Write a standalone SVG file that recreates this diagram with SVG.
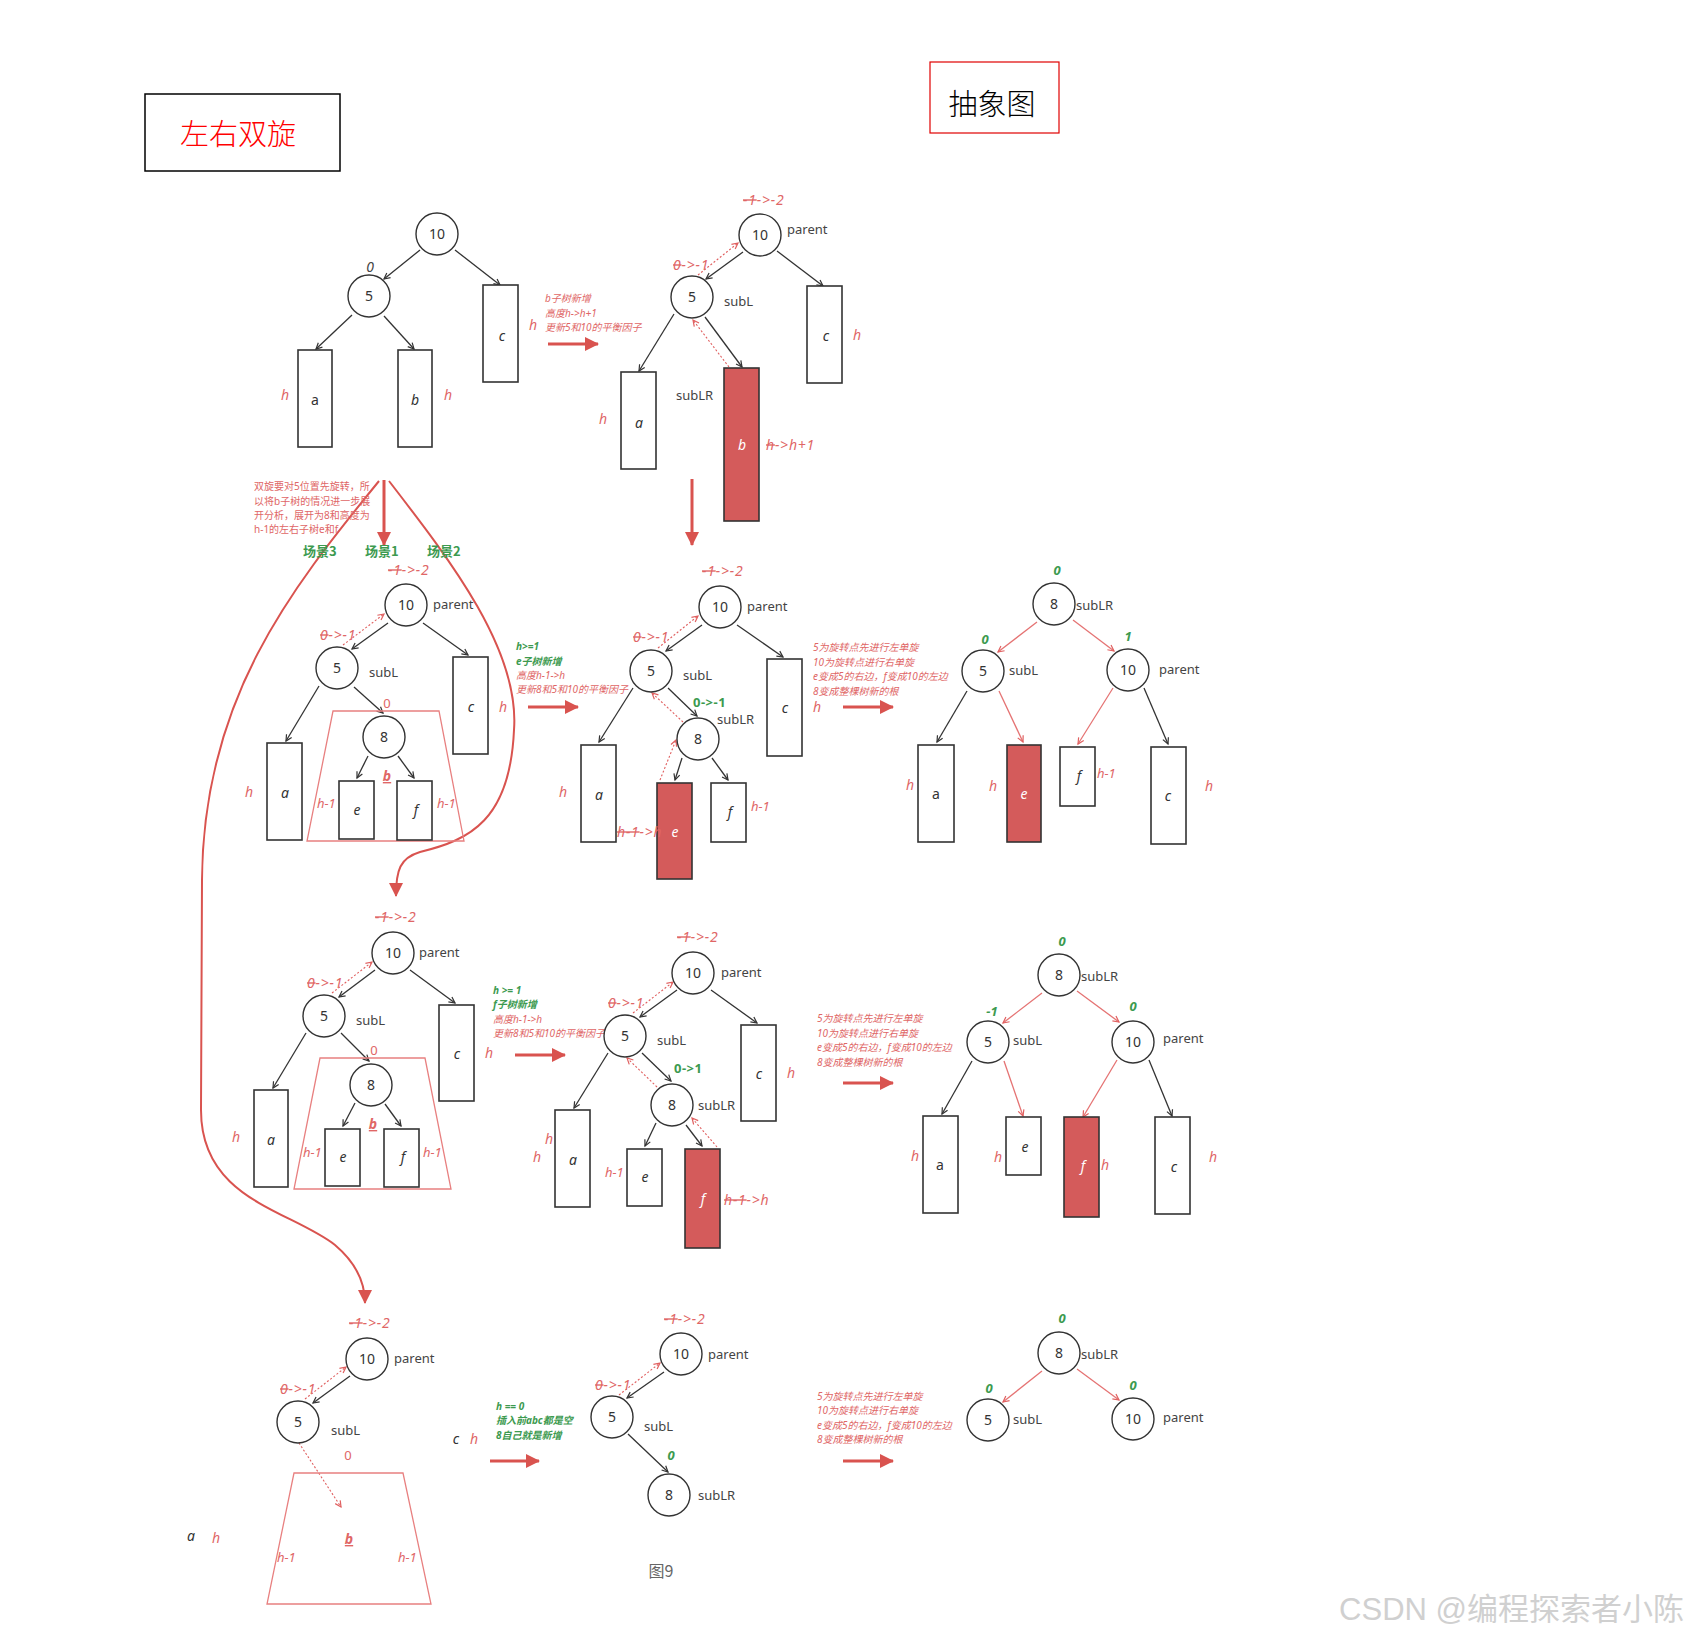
<svg xmlns="http://www.w3.org/2000/svg" width="1688" height="1638" viewBox="0 0 1688 1638">
<defs>
<marker id="ab" markerUnits="userSpaceOnUse" markerWidth="10" markerHeight="10" refX="7" refY="4" orient="auto"><path d="M1,1 L7,4 L1,7" fill="none" stroke="#333" stroke-width="1.2"/></marker>
<marker id="ar" markerUnits="userSpaceOnUse" markerWidth="10" markerHeight="10" refX="7" refY="4" orient="auto"><path d="M1,1 L7,4 L1,7" fill="none" stroke="#e06060" stroke-width="1.2"/></marker>
<marker id="big" markerUnits="userSpaceOnUse" markerWidth="16" markerHeight="16" refX="13" refY="7" orient="auto"><path d="M0,0 L14,7 L0,14 z" fill="#d9534f"/></marker>
<style>
.n circle{fill:#fff;stroke:#333;stroke-width:1.4}
.n text{font:14px "Noto Sans","Liberation Sans",sans-serif;fill:#333;text-anchor:middle}
.box{fill:#fff;stroke:#333;stroke-width:1.6}
.rbox{fill:#d45b5b;stroke:#333;stroke-width:1.6}
.bl{font:italic 14px "Noto Sans","Liberation Sans",sans-serif;fill:#333;text-anchor:middle}
.bu{font:14px "Noto Sans","Liberation Sans",sans-serif;fill:#333;text-anchor:middle}
.wl{font:italic 14px "Noto Sans","Liberation Sans",sans-serif;fill:#fff;text-anchor:middle}
.lbl{font:13px "Noto Sans","Liberation Sans",sans-serif;fill:#444}
.rh{font:italic 14px "Noto Sans","Liberation Sans",sans-serif;fill:#e06666;text-anchor:middle}
.rt{font:italic 13px "Noto Sans","Liberation Sans",sans-serif;fill:#e06666}
.ar{font-size:14px;letter-spacing:0.8px}
.rz{font:13px "Noto Sans","Liberation Sans",sans-serif;fill:#e06666;text-anchor:middle}
.gb{font:italic bold 13px "Noto Sans","Liberation Sans",sans-serif;fill:#3c9a4f;text-anchor:middle}
.gt{font:bold 13px "Noto Sans","Liberation Sans",sans-serif;fill:#3c9a4f;letter-spacing:0.5px}
.ub{font:italic bold 14px "Noto Sans","Liberation Sans",sans-serif;fill:#e06666;text-anchor:middle;text-decoration:underline}
.note{font:italic 10px "Noto Sans","Noto Sans CJK SC",sans-serif;fill:#e06666}
.gnote{font:italic bold 10px "Noto Sans","Noto Sans CJK SC",sans-serif;fill:#3c9a4f}
.lnote{font:10px "Noto Sans","Noto Sans CJK SC",sans-serif;fill:#e06666}
.scn{font:bold 13px "Noto Sans CJK SC",sans-serif;fill:#3c9a4f}
.e{stroke:#333;stroke-width:1.3;fill:none;marker-end:url(#ab)}
.re{stroke:#e57373;stroke-width:1.3;fill:none;marker-end:url(#ar)}
.de{stroke:#e06060;stroke-width:1.1;fill:none;stroke-dasharray:2 2;marker-end:url(#ar)}
.bg{stroke:#d9534f;stroke-width:3;fill:none;marker-end:url(#big)}
.cv{stroke:#d9534f;stroke-width:2;fill:none;marker-end:url(#big)}
.tz{fill:none;stroke:#e88080;stroke-width:1.3}
.s{text-decoration:line-through}
</style>
</defs>
<rect width="1688" height="1638" fill="#fff"/>

<g id="title-left">
<rect x="145" y="94" width="195" height="77" fill="none" stroke="#000" stroke-width="1.5"/>
<text x="238" y="145" font-family="Noto Sans CJK SC, sans-serif" font-size="29" font-weight="300" fill="#ff0000" text-anchor="middle">左右双旋</text>
</g>
<g id="title-right">
<rect x="930" y="62" width="129" height="71" fill="none" stroke="#e00000" stroke-width="1.2"/>
<text x="992" y="115" font-family="Noto Sans CJK SC, sans-serif" font-size="29" font-weight="300" fill="#000" text-anchor="middle">抽象图</text>
</g>

<g id="connectors">
<line class="e" x1="420" y1="250" x2="384" y2="279"/>
<line class="e" x1="455" y1="250" x2="500" y2="285"/>
<line class="e" x1="352" y1="315" x2="316" y2="349"/>
<line class="e" x1="384" y1="316" x2="414" y2="349"/>
<line class="bg" x1="548" y1="344" x2="598" y2="344"/>
<line class="e" x1="743" y1="252" x2="706" y2="279"/>
<line class="e" x1="777" y1="251" x2="823" y2="286"/>
<line class="e" x1="674" y1="314" x2="639" y2="371"/>
<line class="e" x1="705" y1="317" x2="742" y2="367"/>
<line class="de" x1="698" y1="275" x2="738" y2="243"/>
<line class="de" x1="729" y1="367" x2="693" y2="320"/>
<line class="bg" x1="692" y1="479" x2="692" y2="545"/>
<line class="bg" x1="384" y1="480" x2="384" y2="545"/>
<path class="cv" d="M379 481 C290 590,203 700,202 880 L201 1110 C201 1200,290 1210,335 1245 C355 1262,365 1280,365 1303"/>
<path class="cv" d="M389 481 C450 560,520 650,514 730 C510 820,470 840,420 852 C400 858,396 870,396 896"/>
<line class="e" x1="388" y1="623" x2="352" y2="649"/>
<line class="e" x1="423" y1="623" x2="468" y2="655"/>
<line class="e" x1="319" y1="686" x2="286" y2="741"/>
<line class="e" x1="354" y1="687" x2="383" y2="713"/>
<line class="e" x1="368" y1="756" x2="357" y2="778"/>
<line class="e" x1="398" y1="756" x2="414" y2="778"/>
<line class="de" x1="343" y1="645" x2="384" y2="614"/>
<line class="bg" x1="528" y1="707" x2="578" y2="707"/>
<line class="e" x1="702" y1="625" x2="666" y2="651"/>
<line class="e" x1="737" y1="625" x2="783" y2="657"/>
<line class="e" x1="633" y1="688" x2="599" y2="742"/>
<line class="e" x1="668" y1="688" x2="697" y2="716"/>
<line class="e" x1="682" y1="758" x2="675" y2="780"/>
<line class="e" x1="712" y1="758" x2="728" y2="780"/>
<line class="de" x1="658" y1="648" x2="698" y2="616"/>
<line class="de" x1="683" y1="722" x2="652" y2="693"/>
<line class="de" x1="660" y1="780" x2="676" y2="740"/>
<line class="bg" x1="843" y1="707" x2="893" y2="707"/>
<line class="re" x1="1037" y1="622" x2="998" y2="652"/>
<line class="re" x1="1073" y1="620" x2="1114" y2="651"/>
<line class="e" x1="967" y1="691" x2="937" y2="742"/>
<line class="re" x1="999" y1="691" x2="1023" y2="742"/>
<line class="re" x1="1113" y1="688" x2="1078" y2="744"/>
<line class="e" x1="1144" y1="688" x2="1168" y2="744"/>
<line class="e" x1="375" y1="970" x2="339" y2="997"/>
<line class="e" x1="410" y1="970" x2="455" y2="1003"/>
<line class="e" x1="306" y1="1033" x2="273" y2="1088"/>
<line class="e" x1="341" y1="1033" x2="369" y2="1061"/>
<line class="e" x1="355" y1="1103" x2="343" y2="1126"/>
<line class="e" x1="385" y1="1104" x2="401" y2="1126"/>
<line class="de" x1="332" y1="993" x2="372" y2="962"/>
<line class="bg" x1="515" y1="1055" x2="565" y2="1055"/>
<line class="e" x1="677" y1="990" x2="640" y2="1017"/>
<line class="e" x1="711" y1="990" x2="757" y2="1023"/>
<line class="e" x1="608" y1="1053" x2="574" y2="1108"/>
<line class="e" x1="642" y1="1053" x2="671" y2="1081"/>
<line class="e" x1="656" y1="1123" x2="645" y2="1146"/>
<line class="e" x1="686" y1="1125" x2="702" y2="1146"/>
<line class="de" x1="633" y1="1013" x2="673" y2="982"/>
<line class="de" x1="657" y1="1087" x2="627" y2="1058"/>
<line class="de" x1="717" y1="1147" x2="692" y2="1118"/>
<line class="bg" x1="843" y1="1083" x2="893" y2="1083"/>
<line class="re" x1="1042" y1="993" x2="1003" y2="1023"/>
<line class="re" x1="1077" y1="991" x2="1119" y2="1022"/>
<line class="e" x1="972" y1="1061" x2="942" y2="1114"/>
<line class="re" x1="1004" y1="1061" x2="1023" y2="1116"/>
<line class="re" x1="1117" y1="1060" x2="1083" y2="1117"/>
<line class="e" x1="1149" y1="1060" x2="1172" y2="1116"/>
<line class="e" x1="350" y1="1376" x2="313" y2="1403"/>
<line class="de" x1="305" y1="1399" x2="346" y2="1367"/>
<line class="de" x1="299" y1="1443" x2="341" y2="1507"/>
<line class="bg" x1="490" y1="1461" x2="539" y2="1461"/>
<line class="e" x1="664" y1="1372" x2="627" y2="1398"/>
<line class="de" x1="619" y1="1395" x2="660" y2="1363"/>
<line class="e" x1="628" y1="1434" x2="668" y2="1472"/>
<line class="bg" x1="843" y1="1461" x2="893" y2="1461"/>
<line class="re" x1="1042" y1="1371" x2="1003" y2="1402"/>
<line class="re" x1="1077" y1="1369" x2="1119" y2="1400"/>
</g>

<g id="t1-n10" class="n"><circle cx="437" cy="234" r="21"/><text x="437" y="239">10</text></g>
<g id="t1-n5" class="n"><circle cx="369" cy="296" r="21"/><text x="369" y="301">5</text></g>
<g id="t1-a"><rect class="box" x="298" y="350" width="34" height="97"/><text class="bu" x="315" y="405">a</text><text class="rh" x="285" y="400">h</text></g>
<g id="t1-b"><rect class="box" x="398" y="350" width="34" height="97"/><text class="bl" x="415" y="405">b</text><text class="rh" x="448" y="400">h</text></g>
<g id="t1-c"><rect class="box" x="483" y="285" width="35" height="97"/><text class="bl" x="502" y="341">c</text><text class="rh" x="533" y="330">h</text></g>
<g id="t1-labels">
<text x="370" y="272" font-family="Noto Sans, sans-serif" font-style="italic" font-size="14" fill="#444" text-anchor="middle">0</text>
<text class="note" x="545" y="302">b子树新增</text>
<text class="note" x="545" y="317">高度h-&gt;h+1</text>
<text class="note" x="545" y="331">更新5和10的平衡因子</text>
</g>

<g id="t2-n10" class="n"><circle cx="760" cy="235" r="21"/><text x="760" y="240">10</text></g>
<g id="t2-n5" class="n"><circle cx="692" cy="297" r="21"/><text x="692" y="302">5</text></g>
<g id="t2-a"><rect class="box" x="621" y="372" width="35" height="97"/><text class="bl" x="639" y="428">a</text><text class="rh" x="603" y="424">h</text></g>
<g id="t2-b"><rect class="rbox" x="724" y="368" width="35" height="153"/><text class="wl" x="742" y="450">b</text><text class="rt ar" x="766" y="450"><tspan class="s">h</tspan>-&gt;h+1</text></g>
<g id="t2-c"><rect class="box" x="807" y="286" width="35" height="97"/><text class="bl" x="826" y="341">c</text><text class="rh" x="857" y="340">h</text></g>
<g id="t2-labels">
<text class="rt ar" x="743" y="205"><tspan class="s">-1</tspan>-&gt;-2</text>
<text class="lbl" x="787" y="234">parent</text>
<text class="rt ar" x="673" y="270"><tspan class="s">0</tspan>-&gt;-1</text>
<text class="lbl" x="724" y="306">subL</text>
<text class="lbl" x="676" y="400">subLR</text>
</g>

<g id="branch-notes">
<text class="lnote" x="254" y="490">双旋要对5位置先旋转，所</text>
<text class="lnote" x="254" y="505">以将b子树的情况进一步展</text>
<text class="lnote" x="254" y="519">开分析，展开为8和高度为</text>
<text class="lnote" x="254" y="533">h-1的左右子树e和f</text>
<text class="scn" x="303" y="556">场景3</text>
<text class="scn" x="365" y="556">场景1</text>
<text class="scn" x="427" y="556">场景2</text>
</g>

<g id="r2l-n10" class="n"><circle cx="406" cy="605" r="21"/><text x="406" y="610">10</text></g>
<g id="r2l-n5" class="n"><circle cx="337" cy="668" r="21"/><text x="337" y="673">5</text></g>
<g id="r2l-b">
<polygon class="tz" points="333,711 439,711 464,841 307,841"/>
<text class="rz" x="387" y="708">0</text>
<text class="ub" x="387" y="781">b</text>
<text class="rt" x="317" y="808">h-1</text>
<text class="rt" x="437" y="808">h-1</text>
</g>
<g id="r2l-n8" class="n"><circle cx="384" cy="737" r="21"/><text x="384" y="742">8</text></g>
<g id="r2l-a"><rect class="box" x="267" y="743" width="35" height="97"/><text class="bl" x="285" y="798">a</text><text class="rh" x="249" y="797">h</text></g>
<g id="r2l-c"><rect class="box" x="453" y="657" width="35" height="97"/><text class="bl" x="471" y="712">c</text><text class="rh" x="503" y="712">h</text></g>
<g id="r2l-e"><rect class="box" x="339" y="781" width="35" height="58"/><text class="bl" x="357" y="815">e</text></g>
<g id="r2l-f"><rect class="box" x="397" y="781" width="35" height="59"/><text class="bl" x="416" y="815">f</text></g>
<g id="r2l-labels">
<text class="rt ar" x="388" y="575"><tspan class="s">-1</tspan>-&gt;-2</text>
<text class="lbl" x="433" y="609">parent</text>
<text class="rt ar" x="320" y="640"><tspan class="s">0</tspan>-&gt;-1</text>
<text class="lbl" x="369" y="677">subL</text>
<text class="gnote" x="516" y="650">h&gt;=1</text>
<text class="gnote" x="516" y="665">e子树新增</text>
<text class="note" x="516" y="679">高度h-1-&gt;h</text>
<text class="note" x="516" y="693">更新8和5和10的平衡因子</text>
</g>

<g id="r2m-n10" class="n"><circle cx="720" cy="607" r="21"/><text x="720" y="612">10</text></g>
<g id="r2m-n5" class="n"><circle cx="651" cy="671" r="21"/><text x="651" y="676">5</text></g>
<g id="r2m-n8" class="n"><circle cx="698" cy="739" r="21"/><text x="698" y="744">8</text></g>
<g id="r2m-a"><rect class="box" x="581" y="745" width="35" height="97"/><text class="bl" x="599" y="800">a</text><text class="rh" x="563" y="797">h</text></g>
<g id="r2m-c"><rect class="box" x="767" y="659" width="35" height="97"/><text class="bl" x="785" y="713">c</text><text class="rh" x="817" y="712">h</text></g>
<g id="r2m-e"><rect class="rbox" x="657" y="783" width="35" height="96"/><text class="wl" x="675" y="837">e</text><text class="rt ar" x="617" y="837"><tspan class="s">h-1</tspan>-&gt;h</text></g>
<g id="r2m-f"><rect class="box" x="711" y="783" width="35" height="59"/><text class="bl" x="730" y="817">f</text><text class="rt" x="751" y="811">h-1</text></g>
<g id="r2m-labels">
<text class="rt ar" x="702" y="576"><tspan class="s">-1</tspan>-&gt;-2</text>
<text class="lbl" x="747" y="611">parent</text>
<text class="rt ar" x="633" y="642"><tspan class="s">0</tspan>-&gt;-1</text>
<text class="lbl" x="683" y="680">subL</text>
<text class="gt" x="693" y="707">0-&gt;-1</text>
<text class="lbl" x="717" y="724">subLR</text>
<text class="note" x="813" y="651">5为旋转点先进行左单旋</text>
<text class="note" x="813" y="666">10为旋转点进行右单旋</text>
<text class="note" x="813" y="680">e变成5的右边，f变成10的左边</text>
<text class="note" x="813" y="695">8变成整棵树新的根</text>
</g>

<g id="r2r-n8" class="n"><circle cx="1054" cy="604" r="21"/><text x="1054" y="609">8</text></g>
<g id="r2r-n5" class="n"><circle cx="983" cy="671" r="21"/><text x="983" y="676">5</text></g>
<g id="r2r-n10" class="n"><circle cx="1128" cy="670" r="21"/><text x="1128" y="675">10</text></g>
<g id="r2r-a"><rect class="box" x="918" y="745" width="36" height="97"/><text class="bu" x="936" y="799">a</text><text class="rh" x="910" y="790">h</text></g>
<g id="r2r-e"><rect class="rbox" x="1007" y="745" width="34" height="97"/><text class="wl" x="1024" y="799">e</text><text class="rh" x="993" y="791">h</text></g>
<g id="r2r-f"><rect class="box" x="1060" y="747" width="35" height="59"/><text class="bl" x="1079" y="781">f</text><text class="rt" x="1097" y="778">h-1</text></g>
<g id="r2r-c"><rect class="box" x="1151" y="747" width="35" height="97"/><text class="bl" x="1168" y="801">c</text><text class="rh" x="1209" y="791">h</text></g>
<g id="r2r-labels">
<text class="gb" x="1057" y="575">0</text>
<text class="lbl" x="1076" y="610">subLR</text>
<text class="gb" x="985" y="644">0</text>
<text class="gb" x="1128" y="641">1</text>
<text class="lbl" x="1009" y="675">subL</text>
<text class="lbl" x="1159" y="674">parent</text>
</g>

<g id="r3l-n10" class="n"><circle cx="393" cy="953" r="21"/><text x="393" y="958">10</text></g>
<g id="r3l-n5" class="n"><circle cx="324" cy="1016" r="21"/><text x="324" y="1021">5</text></g>
<g id="r3l-b">
<polygon class="tz" points="320,1058 425,1058 451,1189 294,1189"/>
<text class="rz" x="374" y="1055">0</text>
<text class="ub" x="373" y="1129">b</text>
<text class="rt" x="303" y="1157">h-1</text>
<text class="rt" x="423" y="1157">h-1</text>
</g>
<g id="r3l-n8" class="n"><circle cx="371" cy="1085" r="21"/><text x="371" y="1090">8</text></g>
<g id="r3l-a"><rect class="box" x="254" y="1090" width="34" height="97"/><text class="bl" x="271" y="1145">a</text><text class="rh" x="236" y="1142">h</text></g>
<g id="r3l-c"><rect class="box" x="439" y="1005" width="35" height="96"/><text class="bl" x="457" y="1059">c</text><text class="rh" x="489" y="1058">h</text></g>
<g id="r3l-e"><rect class="box" x="325" y="1129" width="35" height="57"/><text class="bl" x="343" y="1162">e</text></g>
<g id="r3l-f"><rect class="box" x="384" y="1129" width="35" height="58"/><text class="bl" x="403" y="1162">f</text></g>
<g id="r3l-labels">
<text class="rt ar" x="375" y="922"><tspan class="s">-1</tspan>-&gt;-2</text>
<text class="lbl" x="419" y="957">parent</text>
<text class="rt ar" x="307" y="988"><tspan class="s">0</tspan>-&gt;-1</text>
<text class="lbl" x="356" y="1025">subL</text>
<text class="gnote" x="493" y="994">h &gt;= 1</text>
<text class="gnote" x="493" y="1008">f子树新增</text>
<text class="note" x="493" y="1023">高度h-1-&gt;h</text>
<text class="note" x="493" y="1037">更新8和5和10的平衡因子</text>
</g>

<g id="r3m-n10" class="n"><circle cx="693" cy="973" r="21"/><text x="693" y="978">10</text></g>
<g id="r3m-n5" class="n"><circle cx="625" cy="1036" r="21"/><text x="625" y="1041">5</text></g>
<g id="r3m-n8" class="n"><circle cx="672" cy="1105" r="21"/><text x="672" y="1110">8</text></g>
<g id="r3m-a"><rect class="box" x="555" y="1110" width="35" height="97"/><text class="bl" x="573" y="1165">a</text><text class="rh" x="549" y="1144">h</text><text class="rh" x="537" y="1162">h</text></g>
<g id="r3m-c"><rect class="box" x="741" y="1025" width="35" height="96"/><text class="bl" x="759" y="1079">c</text><text class="rh" x="791" y="1078">h</text></g>
<g id="r3m-e"><rect class="box" x="627" y="1149" width="35" height="57"/><text class="bl" x="645" y="1182">e</text><text class="rt" x="605" y="1177">h-1</text></g>
<g id="r3m-f"><rect class="rbox" x="685" y="1149" width="35" height="99"/><text class="wl" x="703" y="1204">f</text><text class="rt ar" x="724" y="1205"><tspan class="s">h-1</tspan>-&gt;h</text></g>
<g id="r3m-labels">
<text class="rt ar" x="677" y="942"><tspan class="s">-1</tspan>-&gt;-2</text>
<text class="lbl" x="721" y="977">parent</text>
<text class="rt ar" x="608" y="1008"><tspan class="s">0</tspan>-&gt;-1</text>
<text class="lbl" x="657" y="1045">subL</text>
<text class="gt" x="674" y="1073">0-&gt;1</text>
<text class="lbl" x="698" y="1110">subLR</text>
<text class="note" x="817" y="1022">5为旋转点先进行左单旋</text>
<text class="note" x="817" y="1037">10为旋转点进行右单旋</text>
<text class="note" x="817" y="1051">e变成5的右边，f变成10的左边</text>
<text class="note" x="817" y="1066">8变成整棵树新的根</text>
</g>

<g id="r3r-n8" class="n"><circle cx="1059" cy="975" r="21"/><text x="1059" y="980">8</text></g>
<g id="r3r-n5" class="n"><circle cx="988" cy="1042" r="21"/><text x="988" y="1047">5</text></g>
<g id="r3r-n10" class="n"><circle cx="1133" cy="1042" r="21"/><text x="1133" y="1047">10</text></g>
<g id="r3r-a"><rect class="box" x="923" y="1116" width="35" height="97"/><text class="bu" x="940" y="1170">a</text><text class="rh" x="915" y="1161">h</text></g>
<g id="r3r-e"><rect class="box" x="1006" y="1117" width="35" height="58"/><text class="bl" x="1025" y="1152">e</text><text class="rh" x="998" y="1162">h</text></g>
<g id="r3r-f"><rect class="rbox" x="1064" y="1117" width="35" height="100"/><text class="wl" x="1083" y="1171">f</text><text class="rh" x="1105" y="1170">h</text></g>
<g id="r3r-c"><rect class="box" x="1155" y="1117" width="35" height="97"/><text class="bl" x="1174" y="1172">c</text><text class="rh" x="1213" y="1162">h</text></g>
<g id="r3r-labels">
<text class="gb" x="1062" y="946">0</text>
<text class="lbl" x="1081" y="981">subLR</text>
<text class="gb" x="992" y="1016">-1</text>
<text class="gb" x="1133" y="1011">0</text>
<text class="lbl" x="1013" y="1045">subL</text>
<text class="lbl" x="1163" y="1043">parent</text>
</g>

<g id="r4l-n10" class="n"><circle cx="367" cy="1359" r="21"/><text x="367" y="1364">10</text></g>
<g id="r4l-n5" class="n"><circle cx="298" cy="1422" r="21"/><text x="298" y="1427">5</text></g>
<g id="r4l-b">
<polygon class="tz" points="294,1473 403,1473 431,1604 267,1604"/>
<text class="rz" x="348" y="1460">0</text>
<text class="ub" x="349" y="1544">b</text>
<text class="rt" x="277" y="1562">h-1</text>
<text class="rt" x="398" y="1562">h-1</text>
</g>
<g id="r4l-a"><text class="bl" x="191" y="1541">a</text><text class="rh" x="216" y="1543">h</text></g>
<g id="r4l-c"><text class="bl" x="456" y="1444">c</text><text class="rh" x="474" y="1444">h</text></g>
<g id="r4l-labels">
<text class="rt ar" x="349" y="1328"><tspan class="s">-1</tspan>-&gt;-2</text>
<text class="lbl" x="394" y="1363">parent</text>
<text class="rt ar" x="280" y="1394"><tspan class="s">0</tspan>-&gt;-1</text>
<text class="lbl" x="331" y="1435">subL</text>
</g>

<g id="r4m-n10" class="n"><circle cx="681" cy="1354" r="21"/><text x="681" y="1359">10</text></g>
<g id="r4m-n5" class="n"><circle cx="612" cy="1417" r="21"/><text x="612" y="1422">5</text></g>
<g id="r4m-n8" class="n"><circle cx="669" cy="1495" r="21"/><text x="669" y="1500">8</text></g>
<g id="r4m-labels">
<text class="gnote" x="496" y="1410">h == 0</text>
<text class="gnote" x="496" y="1424">插入前abc都是空</text>
<text class="gnote" x="496" y="1439">8自己就是新增</text>
<text class="rt ar" x="664" y="1324"><tspan class="s">-1</tspan>-&gt;-2</text>
<text class="lbl" x="708" y="1359">parent</text>
<text class="rt ar" x="595" y="1390"><tspan class="s">0</tspan>-&gt;-1</text>
<text class="lbl" x="644" y="1431">subL</text>
<text class="gb" x="671" y="1460">0</text>
<text class="lbl" x="698" y="1500">subLR</text>
<text x="661" y="1577" font-family="Noto Sans CJK SC, sans-serif" font-size="16" fill="#666" text-anchor="middle">图9</text>
</g>

<g id="r4r-n8" class="n"><circle cx="1059" cy="1353" r="21"/><text x="1059" y="1358">8</text></g>
<g id="r4r-n5" class="n"><circle cx="988" cy="1420" r="21"/><text x="988" y="1425">5</text></g>
<g id="r4r-n10" class="n"><circle cx="1133" cy="1419" r="21"/><text x="1133" y="1424">10</text></g>
<g id="r4r-labels">
<text class="note" x="817" y="1400">5为旋转点先进行左单旋</text>
<text class="note" x="817" y="1414">10为旋转点进行右单旋</text>
<text class="note" x="817" y="1429">e变成5的右边，f变成10的左边</text>
<text class="note" x="817" y="1443">8变成整棵树新的根</text>
<text class="gb" x="1062" y="1323">0</text>
<text class="lbl" x="1081" y="1359">subLR</text>
<text class="gb" x="989" y="1393">0</text>
<text class="gb" x="1133" y="1390">0</text>
<text class="lbl" x="1013" y="1424">subL</text>
<text class="lbl" x="1163" y="1422">parent</text>
</g>

<g id="watermark">
<text x="1684" y="1620" font-family="Liberation Sans, Noto Sans CJK SC, sans-serif" font-size="31" fill="#d0d0d0" text-anchor="end">CSDN @编程探索者小陈</text>
</g>
</svg>
